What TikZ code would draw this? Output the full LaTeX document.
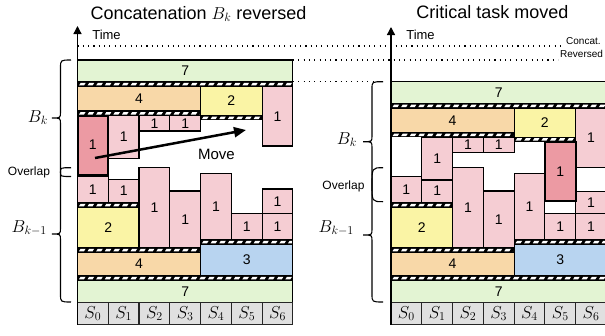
\documentclass[tikz,border=0pt]{standalone}
\usepackage[no-math]{fontspec}
\setmainfont{Liberation Sans}
\usetikzlibrary{arrows.meta}
\definecolor{cseven}{HTML}{E3F4D3}
\definecolor{cfour}{HTML}{F8D8A8}
\definecolor{ctwo}{HTML}{FAF4A5}
\definecolor{cthree}{HTML}{B8D4F0}
\definecolor{cone}{HTML}{F5CDD3}
\definecolor{ccrit}{HTML}{EC9AA3}
\definecolor{cstage}{HTML}{E0E0E0}
\tikzset{
  taskbox/.style={draw=black,line width=1.1pt},
  critbox/.style={draw=black,line width=2pt,fill=ccrit},
  stagebox/.style={draw=black!85,line width=1.1pt,fill=cstage},
  tasklabel/.style={font=\fontsize{14}{14}\selectfont,inner sep=0pt},
  stagelabel/.style={font=\fontsize{17.28}{17.28}\selectfont,inner sep=0pt},
  hatchfill/.style={fill=black},
  hatchdash/.style={fill=white},
  timeaxis/.style={line width=1.3pt,-{Triangle[length=8pt,width=8pt]}},
  dotline/.style={line width=1.1pt,dash pattern=on 1.1pt off 4.2pt},
  bracestyle/.style={line width=1.1pt},
  movearrow/.style={line width=2.5pt,-{Triangle[length=12pt,width=10pt]}},
  titlelabel/.style={font=\fontsize{18}{18}\selectfont,anchor=base,inner sep=0pt},
  timelabel/.style={font=\fontsize{13}{13}\selectfont,inner sep=0pt},
  smalllabel/.style={font=\fontsize{12}{12}\selectfont,inner sep=0pt},
  movelabel/.style={font=\fontsize{15}{15}\selectfont,inner sep=0pt},
  bracelabel/.style={font=\fontsize{17.28}{17.28}\selectfont,inner sep=0pt,anchor=base east},
  sidelabel/.style={font=\fontsize{10}{10}\selectfont,inner sep=0pt,anchor=base west},
}
\newcounter{tkn}
\newcommand\tk[6]{\stepcounter{tkn}\edef\tkname{tk\arabic{tkn}}%
  \draw[taskbox,fill=#1] (#2,#3) rectangle (#4,#5);
  \node[tasklabel] (\tkname) at ({(#2+#4)/2},{(#3+#5)/2}) {#6};}
\newcommand\hb[4]{%
  \fill[hatchfill] (#1,#2) rectangle (#3,#4);
  \begin{scope}
    \clip ([xshift=1pt]#1,#2) rectangle ([xshift=-1pt]#3,#4);
    \pgfmathsetmacro\hbn{int((#3-#1)*30.77/8.6)+1}
    \foreach \k in {0,...,\hbn}{%
      \fill[hatchdash] (#1,{(#2+#4)/2}) ++(\k*8.6pt+1.5pt,-1.25pt) -- ++(5pt,0pt) -- ++(1.6pt,2.5pt) -- ++(-5pt,0pt) -- cycle;}
  \end{scope}}
\newcommand\upperpart{%
  \tk{cseven}{0}{60}{7}{81.7}{7}
  \hb{0}{81.7}{7}{86.7}
  \tk{cfour}{0}{86.7}{4}{111}{4}
  \hb{0}{111}{4}{115.5}
  \tk{ctwo}{4}{86.7}{6}{115.5}{2}
  \hb{4}{115.5}{6}{120}
  \tk{cone}{6}{86.7}{7}{146}{1}
  \tk{cone}{1}{115.5}{2}{158.3}{1}
  \tk{cone}{2}{115.5}{3}{131}{1}
  \tk{cone}{3}{115.5}{4}{131}{1}}
\newcommand\lowerpart[1]{%
  \tk{cone}{0}{176.7}{1}{202.5}{1}
  \tk{cone}{1}{179.3}{2}{202.5}{1}
  \hb{0}{202.5}{2}{207.5}
  \tk{ctwo}{0}{207.5}{2}{247.5}{2}
  \tk{cone}{2}{167.7}{3}{247.5}{1}
  \tk{cone}{3}{191}{4}{247.5}{1}
  \hb{0}{247.5}{4}{252.5}
  \tk{cfour}{0}{252.5}{4}{275.5}{4}
  \tk{cone}{4}{173.3}{5}{239.5}{1}
  \tk{cone}{5}{213.5}{6}{239.5}{1}
  \tk{cone}{6}{#1}{7}{213.5}{1}
  \tk{cone}{6}{213.5}{7}{239.5}{1}
  \hb{4}{239.5}{7}{244.5}
  \tk{cthree}{4}{244.5}{7}{275.5}{3}
  \hb{0}{275.5}{7}{280.5}
  \tk{cseven}{0}{280.5}{7}{302.5}{7}}
\newcommand\stagerow[1]{%
  \foreach \i in {0,...,6}{%
    \draw[stagebox] (\i,302.5) rectangle (\i+1,324.5);
    \node[stagelabel] (s#1\i) at (\i+0.5,313.5) {$S_{\i}$};}}
% curly brace: xend, xline, xtip, ytop, ytip, ybottom, top curl, bottom curl
\newcommand\vbrace[8]{%
  \draw[bracestyle] (#1,#4) .. controls (#2,#4) .. (#2,{#4+#7}) -- (#2,{#5-6})
    .. controls (#2,#5) .. (#3,#5) .. controls (#2,#5) .. (#2,{#5+6})
    -- (#2,{#6-#8}) .. controls (#2,#6) .. (#1,#6);}
\begin{document}
\begin{tikzpicture}[x=1pt,y=-1pt]
\useasboundingbox (0,0) rectangle (605,335);
% dotted reference lines
\coordinate (dAa) at (77.5,46);  \coordinate (dAb) at (563,46);
\coordinate (dBa) at (293,60);   \coordinate (dBb) at (558,60);
\coordinate (dCa) at (293,81.7); \coordinate (dCb) at (376,81.7);
\draw[dotline] (dAa) -- (dAb);
\draw[dotline] (dBa) -- (dBb);
\draw[dotline] (dCa) -- (dCb);
\node[sidelabel] (concat) at (566,44.5) {Concat.};
\node[sidelabel] (reversed) at (560,57.5) {Reversed};
% left panel
\begin{scope}[shift={(77.5pt,0pt)},x=30.77pt]
  \lowerpart{189}
  \upperpart
  \draw[critbox] (0,115.5) rectangle (1,174.5);
  \node[tasklabel] (critL) at (0.5,145) {1};
  \stagerow{L}
\end{scope}
% right panel
\begin{scope}[shift={(391pt,0pt)},x=30.77pt]
  \lowerpart{191.5}
  \begin{scope}[yshift=-21.7pt]
    \upperpart
    \draw[critbox] (5,120) rectangle (6,179.5);
    \node[tasklabel] (critR) at (5.5,149.7) {1};
  \end{scope}
  \stagerow{R}
\end{scope}
% axes
\coordinate (axLb) at (77.5,324.5); \coordinate (axLt) at (77.5,26);
\coordinate (axRb) at (391,324.5);  \coordinate (axRt) at (391,27);
\draw[timeaxis] (axLb) -- (axLt);
\draw[timeaxis] (axRb) -- (axRt);
\node[timelabel] (timeL) at (106.5,35) {Time};
\node[timelabel] (timeR) at (420.5,35) {Time};
% titles
\node[titlelabel] (titleL) at (198.5,19) {Concatenation $B_k$ reversed};
\node[titlelabel] (titleR) at (492.5,18.5) {Critical task moved};
% move arrow
\coordinate (mvs) at (95,158); \coordinate (mvt) at (246,130);
\draw[movearrow] (mvs) -- (mvt);
\node[movelabel] (move) at (216.5,154) {Move};
% braces left
\vbrace{71}{60.5}{52}{60}{118}{176.5}{8}{4.4}
\vbrace{71}{60.5}{52}{167.7}{234}{302}{4.4}{8}
\node[bracelabel] (bkL) at (48,122) {$B_k$};
\node[bracelabel] (bkmL) at (47,232) {$B_{k-1}$};
\node[smalllabel] (ovL) at (29,172) {Overlap};
% braces right
\vbrace{383}{372}{363}{81.7}{141.7}{201.7}{7}{17}
\vbrace{383}{372}{363}{167.7}{235}{302}{17}{8}
\node[bracelabel] (bkR) at (357,144) {$B_k$};
\node[bracelabel] (bkmR) at (354,232) {$B_{k-1}$};
\node[smalllabel] (ovR) at (343.5,186.7) {Overlap};
\end{tikzpicture}
\end{document}
